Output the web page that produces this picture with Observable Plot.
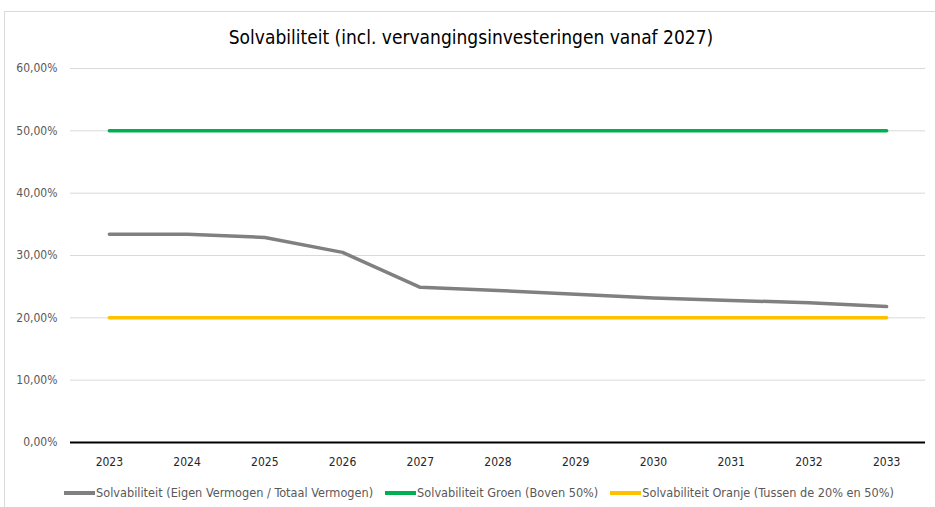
<!DOCTYPE html>
<html>
<head>
<meta charset="utf-8">
<script src="https://cdn.jsdelivr.net/npm/d3@7"></script>
<script src="https://cdn.jsdelivr.net/npm/@observablehq/plot@0.6"></script>
<style>
  body { margin: 0; background: #fff; }
  #wrap { position: relative; width: 935px; height: 507px; overflow: hidden; font-family: "Liberation Sans Narrow", "DejaVu Sans Condensed", "Open Sans", sans-serif; }
  #frame { position: absolute; left: 4px; top: 11px; width: 960px; height: 520px; border-top: 1px solid #d9d9d9; border-left: 1px solid #d9d9d9; }
  #title { position: absolute; left: 0; width: 942px; top: 26px; text-align: center; font-size: 19px; color: #000; }
  #chart { position: absolute; left: 0; top: 0; }
  #legend { position: absolute; left: 0; width: 958px; top: 485px; display: flex; justify-content: center; gap: 12px; font-size: 12.6px; color: #595959; }
  .item { display: flex; align-items: center; }
  .sw { width: 31px; height: 4px; margin-right: 1px; }
</style>
</head>
<body>
<div id="wrap">
  <div id="frame"></div>
  <div id="title">Solvabiliteit (incl. vervangingsinvesteringen vanaf 2027)</div>
  <div id="chart"></div>
  <div id="legend"></div>
</div>
<script>
const years = ["2023","2024","2025","2026","2027","2028","2029","2030","2031","2032","2033"];
const solvabiliteit = [33.4, 33.4, 32.9, 30.5, 24.9, 24.4, 23.8, 23.2, 22.8, 22.4, 21.8];
const groen = [50, 50, 50, 50, 50, 50, 50, 50, 50, 50, 50];
const oranje = [20, 20, 20, 20, 20, 20, 20, 20, 20, 20, 20];
const yTicks = [0, 10, 20, 30, 40, 50, 60];
const seriesNames = [
  "Solvabiliteit (Eigen Vermogen / Totaal Vermogen)",
  "Solvabiliteit Groen (Boven 50%)",
  "Solvabiliteit Oranje (Tussen de 20% en 50%)"
];
const colors = ["#808080", "#00b050", "#ffc000"];

const toRows = (vals, s) => years.map((y, i) => ({year: y, value: vals[i], series: s}));
const rows = [
  ...toRows(solvabiliteit, seriesNames[0]),
  ...toRows(groen, seriesNames[1]),
  ...toRows(oranje, seriesNames[2])
];
const fmt = d => d.toFixed(2).replace(".", ",") + "%";

const chart = Plot.plot({
  width: 935,
  height: 480,
  marginTop: 68,
  marginBottom: 38,
  marginLeft: 70,
  marginRight: 10,
  style: { fontFamily: '"Liberation Sans Narrow", "DejaVu Sans Condensed", sans-serif', fontSize: "12px", background: "transparent" },
  x: { type: "point", domain: years, padding: 0.5, round: false },
  y: { domain: [0, 60] },
  marks: [
    Plot.ruleY(yTicks.filter(d => d > 0), { stroke: "#d9d9d9", strokeWidth: 1 }),
    Plot.axisY(yTicks, { tickFormat: fmt, tickSize: 0, tickPadding: 13, fill: "#595959", label: null }),
    Plot.axisX(years, { tickSize: 0, tickPadding: 15, fill: "#262626", label: null }),
    Plot.ruleY([0], { stroke: "#000", strokeWidth: 2 }),
    Plot.lineY(rows, { x: "year", y: "value", z: "series", stroke: "series", strokeWidth: 3.5 })
  ],
  color: { domain: seriesNames, range: colors }
});
document.getElementById("chart").appendChild(chart);

const legend = document.getElementById("legend");
seriesNames.forEach((n, i) => {
  const it = document.createElement("div");
  it.className = "item";
  const sw = document.createElement("div");
  sw.className = "sw";
  sw.style.background = colors[i];
  const t = document.createElement("span");
  t.textContent = n;
  it.appendChild(sw); it.appendChild(t);
  legend.appendChild(it);
});
</script>
</body>
</html>
